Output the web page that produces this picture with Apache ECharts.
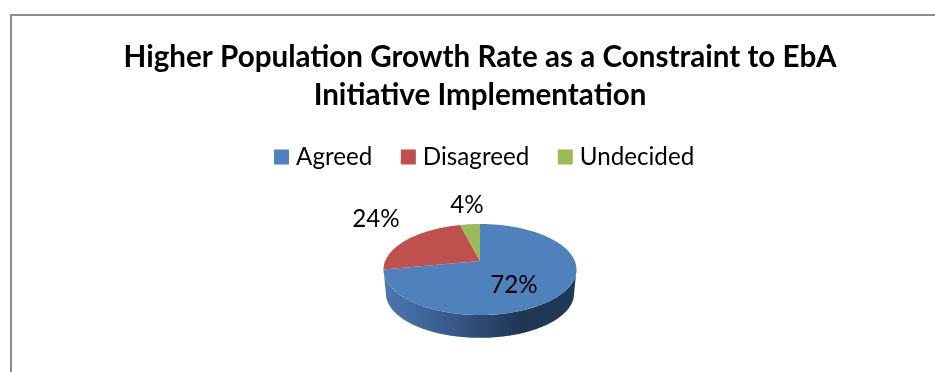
<!DOCTYPE html>
<html><head><meta charset="utf-8">
<style>html,body{margin:0;padding:0;background:#fff}#c{width:935px;height:372px}</style>
<script src="https://cdn.jsdelivr.net/npm/echarts@6/dist/echarts.min.js"></script>
</head><body><div id="c"></div>
<script>
const titleLines = ['Higher Population Growth Rate as a Constraint to EbA', 'Initiative Implementation'];
const categories = ['Agreed', 'Disagreed', 'Undecided'];
const values = [72, 24, 4];
const colors = ['#4f81bd', '#c0504d', '#9bbb59'];

// Layout of the tilted pie (a projected circle), kept apart from the data.
const APEX = { x: 480, y: 261 };
const SPAN_X = 94.8, PERSP = -0.1868, SKEW = -4.85, DEPTH = 24, WALL_SCALE = 0.975, MID_Y = 269.5;
const LABEL_POS = [[514, 285], [376, 219], [467, 205]];

function project(deg) {
  const t = deg * Math.PI / 180, u = Math.sin(t), v = -Math.cos(t), d = 1 + PERSP * v;
  return [APEX.x + SPAN_X * u / d, (SKEW * v + APEX.y) / d];
}
function arc(a0, a1) {
  const pts = [], n = Math.max(2, Math.ceil(Math.abs(a1 - a0) / 1.5));
  for (let i = 0; i <= n; i++) pts.push(project(a0 + (a1 - a0) * i / n));
  return pts;
}
const total = values.reduce((a, b) => a + b, 0);
function angleAt(i) {
  let s = 0;
  for (let k = 0; k < i; k++) s += values[k];
  return s / total * 360;
}
function wallShape() {
  const ext = Math.acos(PERSP) * 180 / Math.PI;
  const top = arc(ext, 360 - ext);
  const low = top.map(p => [APEX.x + (p[0] - APEX.x) * WALL_SCALE, MID_Y + (p[1] - MID_Y) * WALL_SCALE + DEPTH]).reverse();
  return top.concat(low);
}
const wallFill = new echarts.graphic.LinearGradient(0, 0, 1, 0, [
  { offset: 0, color: '#4a78b0' },
  { offset: 0.35, color: '#38598a' },
  { offset: 0.72, color: '#1f3553' },
  { offset: 1, color: '#1f3a5a' }
]);

const chart = echarts.init(document.getElementById('c'), null, { renderer: 'canvas' });
chart.setOption({
  animation: false,
  backgroundColor: '#fff',
  title: {
    text: titleLines.join('\n'), left: 475, top: 33, textAlign: 'center',
    textStyle: { fontFamily: 'Lato', fontWeight: 'bold', fontSize: 29.6, lineHeight: 38, color: '#000' }
  },
  legend: {
    left: 274, top: 145, padding: 0, itemWidth: 15, itemHeight: 15, itemGap: 28.5, icon: 'rect',
    data: categories,
    textStyle: { fontFamily: 'Lato', fontSize: 24.2, color: '#000', padding: [0, 0, 0, 2] }
  },
  graphic: [{
    type: 'polyline', silent: true,
    shape: { points: [[11, 372], [11, 15], [935, 15]] },
    style: { fill: null, stroke: '#8c8c8c', lineWidth: 2 }
  }],
  series: categories.map((name, i) => ({
    type: 'custom', name, coordinateSystem: 'none', z: 2,
    itemStyle: { color: colors[i] },
    data: [values[i]],
    renderItem: () => {
      const children = [];
      if (i === 0) children.push({
        type: 'polygon', z2: 1, shape: { points: wallShape() }, style: { fill: wallFill }
      });
      const pts = [[APEX.x, APEX.y]].concat(arc(angleAt(i), angleAt(i) + values[i] / total * 360));
      children.push({ type: 'polygon', z2: 2, shape: { points: pts }, style: { fill: colors[i] } });
      return { type: 'group', children };
    }
  })).concat([{
    type: 'custom', name: 'labels', coordinateSystem: 'none', z: 5, silent: true,
    data: values,
    renderItem: (params, api) => ({
      type: 'text', z2: 5,
      x: LABEL_POS[params.dataIndex][0], y: LABEL_POS[params.dataIndex][1],
      style: { text: api.value(0) + '%', fontFamily: 'Lato', fontSize: 24.2, fill: '#000', align: 'center', verticalAlign: 'middle' }
    })
  }])
});
</script></body></html>
